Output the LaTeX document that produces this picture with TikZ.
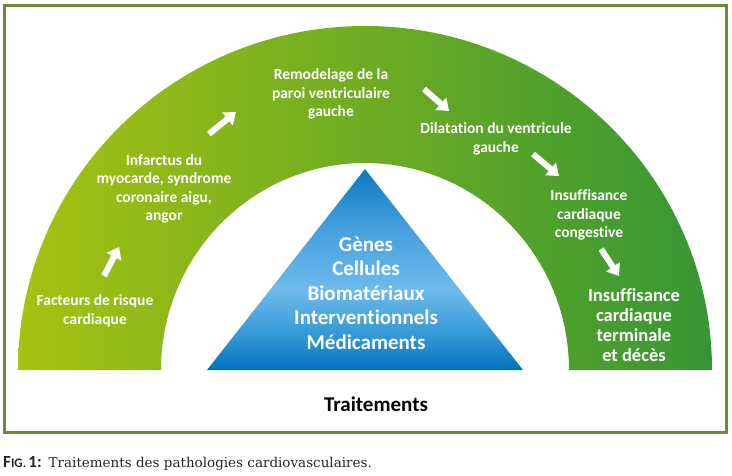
\documentclass[tikz,border=0pt]{standalone}
\usepackage{fontspec}
\setsansfont{Carlito}[RawFeature={-liga}]
\setmainfont{DejaVu Serif}
\usetikzlibrary{arrows.meta}
\definecolor{framegreen}{RGB}{106,140,56}
\definecolor{archleft}{RGB}{166,194,18}
\definecolor{archmid}{RGB}{112,172,36}
\definecolor{archright}{RGB}{54,150,52}
\definecolor{pyrtop}{RGB}{10,120,192}
\definecolor{pyrmid}{RGB}{70,160,222}
\definecolor{pyrlight}{RGB}{110,186,235}
\definecolor{pyrlow}{RGB}{45,148,212}
\definecolor{pyrbot}{RGB}{0,112,188}
\pgfdeclareverticalshading{pyramid}{100bp}{color(0bp)=(pyrbot); color(25bp)=(pyrbot);
  color(32.5bp)=(pyrlow); color(45bp)=(pyrlight); color(60bp)=(pyrmid);
  color(75bp)=(pyrtop); color(100bp)=(pyrtop)}
\tikzset{
  stage/.style={text=white, inner sep=0pt, align=center,
    font=\sffamily\bfseries\fontsize{15.5}{18.5}\selectfont},
  flow/.style={draw=white, line width=6pt, -{Triangle[width=16pt,length=11pt]}}
}
\begin{document}
\begin{tikzpicture}[x=1pt,y=-1pt]
		\useasboundingbox (0,0) rectangle (732,475);
		\draw[framegreen, line width=3pt] (4.5,5.5) rectangle (726.5,432);
		\shade[left color=archleft, middle color=archmid, right color=archright]
			(18,370) arc[start angle=180, end angle=360, x radius=347, y radius=344]
			-- (569,370) arc[start angle=0, end angle=-180, x radius=204, y radius=207] -- cycle;
		\shade[shading=pyramid] (365,169) -- (523,370) -- (207,370) -- cycle;
		\node[stage] (risk) at (95,311) {Facteurs de risque\\cardiaque};
		\node[stage] (infarct) at (164,189) {Infarctus du\\myocarde, syndrome\\coronaire aigu,\\angor};
		\node[stage] (remodel) at (331,94) {Remodelage de la\\paroi ventriculaire\\gauche};
		\node[stage] (dilat) at (496,139) {Dilatation du ventricule\\gauche};
		\node[stage] (congest) at (589,215) {Insuffisance\\cardiaque\\congestive};
		\node[stage, font=\sffamily\bfseries\fontsize{18.5}{20}\selectfont] (death) at (634,325)
			{Insuffisance\\cardiaque\\terminale\\et décès};
		\node[stage, font=\sffamily\bfseries\fontsize{21}{24.5}\selectfont] (cures) at (366,293)
			{Gènes\\Cellules\\Biomatériaux\\Interventionnels\\Médicaments};
		\node[inner sep=0pt, font=\sffamily\bfseries\fontsize{21}{24}\selectfont] (treat) at (376,404) {Traitements};
		\foreach \a/\b/\c/\d [count=\i] in {104/276/119/247, 209/134/236/112, 424/89/449/111,
			533/154/559/176, 601/249/619/276}
		{
			\coordinate (s\i) at (\a,\b);
			\coordinate (e\i) at (\c,\d);
			\draw[flow] (s\i) -- (e\i);
		}
		\node[anchor=base west, inner sep=0pt, text=black!85] (caption) at (3,467.5)
			{{\sffamily\bfseries\fontsize{17}{19}\selectfont F\fontsize{13}{15}\selectfont IG.\,\fontsize{17}{19}\selectfont 1:}\hspace{7pt}%
			{\fontsize{13.5}{16}\selectfont Traitements des pathologies cardiovasculaires.}};
	\end{tikzpicture}
\end{document}
